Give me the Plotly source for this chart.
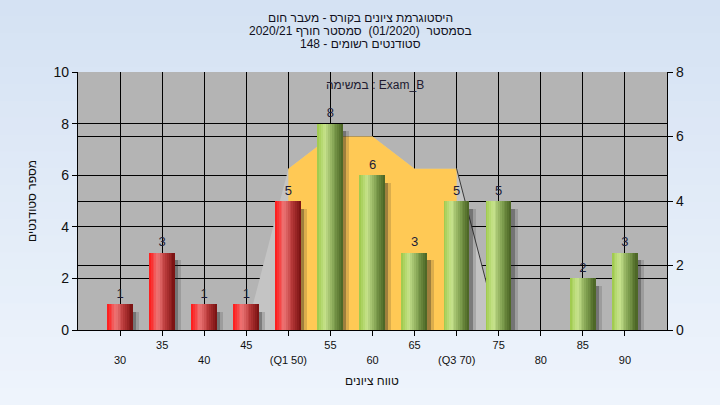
import plotly.graph_objects as go

# ---------------- data ----------------
scores = [30, 35, 40, 45, 50, 55, 60, 65, 70, 75, 80, 85, 90]
counts = [1, 3, 1, 1, 5, 8, 6, 3, 5, 5, 0, 2, 3]
tick_labels = ["30", "35", "40", "45", "(Q1 50)", "55", "60", "65", "(Q3 70)", "75", "80", "85", "90"]
q1_score = 50
q3_score = 70
# distribution shape plotted on the right axis
curve_x = [45, 50, 55, 60, 65, 70, 75]
curve_y = [0, 5, 6, 6, 5, 5, 0]

title_lines = [
    "היסטוגרמת ציונים בקורס - מעבר חום",
    "בסמסטר  (01/2020)  סמסטר חורף 2020/21",
    "סטודנטים רשומים - 148",
]
task_label = "במשימה : Exam_B"
x_title = "טווח ציונים"
y_title = "מספר סטודנטים"

# ---------------- styling helpers ----------------
FONT = "Liberation Sans, Arial, DejaVu Sans, sans-serif"
RTL_OPEN, RTL_CLOSE = "\u202b", "\u202c"

red_stops = [(0.0, (255, 22, 22)), (0.35, (236, 118, 118)), (0.65, (186, 58, 58)), (1.0, (118, 16, 16))]
green_stops = [(0.0, (156, 200, 72)), (0.3, (200, 228, 142)), (0.65, (128, 160, 80)), (1.0, (72, 98, 34))]


def interp(stops, t):
    for (t0, c0), (t1, c1) in zip(stops[:-1], stops[1:]):
        if t0 <= t <= t1:
            f = (t - t0) / (t1 - t0)
            return "rgb(%d,%d,%d)" % tuple(round(a + (b - a) * f) for a, b in zip(c0, c1))
    return "rgb(%d,%d,%d)" % stops[-1][1]


BAR_W = 3.0
N_SLICES = 14
slice_w = BAR_W / N_SLICES

# plot-area geometry in pixels
L, T, PW, PH = 78, 72, 589, 258
W, H = 720, 405


def px_x(x):
    return (x - L) / PW


def px_y(y):
    return (T + PH - y) / PH


fig = go.Figure()

# light grey distribution area (main subplot, right axis)
fig.add_trace(go.Scatter(
    x=curve_x, y=curve_y, mode="lines", line=dict(width=0, color="#c4c4c4"),
    fill="tozeroy", fillcolor="#c4c4c4", hoverinfo="skip", showlegend=False,
    xaxis="x", yaxis="y"))

# yellow inter-quartile area
iq_x = [x for x in curve_x if q1_score <= x <= q3_score]
iq_y = [y for x, y in zip(curve_x, curve_y) if q1_score <= x <= q3_score]
fig.add_trace(go.Scatter(
    x=iq_x, y=iq_y, mode="lines", line=dict(width=0, color="#ffc955"),
    fill="tozeroy", fillcolor="#ffc955", hoverinfo="skip", showlegend=False,
    xaxis="x", yaxis="y"))

# dark edge on the falling side
fig.add_trace(go.Scatter(
    x=curve_x[-2:], y=curve_y[-2:], mode="lines", line=dict(width=1, color="#3a3a3a"),
    hoverinfo="skip", showlegend=False, xaxis="x", yaxis="y"))

# bar shadows (overlay subplot, left axis)
shadow_y = [max(c - 0.3, 0) for c in counts]
for off, alpha in [(0.75, 0.16), (0.4, 0.32)]:
    fig.add_trace(go.Bar(
        x=scores, y=shadow_y, width=BAR_W, offset=-BAR_W / 2 + off,
        marker=dict(color="rgba(30,30,30,%.2f)" % alpha, line=dict(width=0)),
        hoverinfo="skip", showlegend=False, xaxis="x", yaxis="y2"))

# cylinder-shaded bars via thin slices
for i in range(N_SLICES):
    t = (i + 0.5) / N_SLICES
    cols = [interp(red_stops if s <= q1_score else green_stops, t) for s in scores]
    fig.add_trace(go.Bar(
        x=scores, y=counts, width=slice_w * 1.04, offset=-BAR_W / 2 + i * slice_w,
        marker=dict(color=cols, line=dict(width=0)),
        hoverinfo="skip", showlegend=False, xaxis="x", yaxis="y2"))

# value labels
fig.add_trace(go.Scatter(
    x=scores, y=counts, mode="markers+text",
    marker=dict(size=3, opacity=0),
    text=[str(c) if c > 0 else "" for c in counts],
    textposition="top center",
    textfont=dict(family=FONT, size=13, color="#1c1c38"),
    hoverinfo="skip", showlegend=False, xaxis="x", yaxis="y2"))

# ---------------- background ----------------
shapes = []
y_lo, y_hi = px_y(H), px_y(0)
x_lo, x_hi = px_x(0), px_x(W)
n_bands = 24
top_c, bot_c = (213, 226, 243), (238, 244, 252)
for k in range(n_bands):
    f = k / (n_bands - 1)
    col = "rgb(%d,%d,%d)" % tuple(round(a + (b - a) * f) for a, b in zip(top_c, bot_c))
    y1 = y_hi - (y_hi - y_lo) * k / n_bands
    y0 = y_hi - (y_hi - y_lo) * (k + 1) / n_bands
    shapes.append(dict(type="rect", xref="paper", yref="paper", x0=x_lo, x1=x_hi,
                       y0=y0 - 0.002, y1=y1 + 0.002, fillcolor=col, line=dict(width=0),
                       layer="below"))
shapes.append(dict(type="rect", xref="paper", yref="paper", x0=0, x1=1, y0=0, y1=1,
                   fillcolor="#b4b4b4", line=dict(width=0), layer="below"))

# ---------------- annotations ----------------
annotations = []
for k, line in enumerate(title_lines):
    annotations.append(dict(
        text=RTL_OPEN + line + RTL_CLOSE, xref="paper", yref="paper",
        x=px_x(360), y=px_y(18 + 13 * k),
        xanchor="center", yanchor="middle", showarrow=False,
        font=dict(family=FONT, size=12, color="#101020")))
annotations.append(dict(
    text=task_label, xref="paper", yref="paper",
    x=px_x(375), y=px_y(85), xanchor="center", yanchor="middle",
    showarrow=False, font=dict(family=FONT, size=12, color="#201a30")))
annotations.append(dict(
    text=y_title, xref="paper", yref="paper", textangle=-90,
    x=px_x(32), y=px_y(201), xanchor="center", yanchor="middle",
    showarrow=False, font=dict(family=FONT, size=12, color="#101010")))
annotations.append(dict(
    text=x_title, xref="paper", yref="paper",
    x=px_x(372), y=px_y(381), xanchor="center", yanchor="middle",
    showarrow=False, font=dict(family=FONT, size=12, color="#101010")))

ticktext = [lab if i % 2 == 1 else "<br>" + lab for i, lab in enumerate(tick_labels)]

axis_common = dict(showline=True, linecolor="black", linewidth=1.2,
                   ticks="outside", ticklen=5, tickcolor="black",
                   showgrid=True, gridcolor="black", gridwidth=1.4, zeroline=False)

fig.update_layout(
    width=W, height=H, autosize=False,
    margin=dict(l=L, r=W - L - PW, t=T, b=H - T - PH, pad=0),
    paper_bgcolor="#e2ebf7", plot_bgcolor="#b4b4b4",
    barmode="overlay", bargap=0,
    font=dict(family=FONT, size=12, color="black"),
    showlegend=False,
    xaxis=dict(range=[25, 95], tickmode="array", tickvals=scores, ticktext=ticktext,
               tickfont=dict(size=11, color="#101010"), automargin=False,
               **axis_common),
    yaxis=dict(range=[0, 8], side="right", dtick=2, tick0=0, automargin=False,
               tickfont=dict(size=14, color="#101010"), **axis_common),
    yaxis2=dict(range=[0, 10], side="left", overlaying="y", dtick=2, tick0=0,
                automargin=False,
                tickfont=dict(size=14, color="#101010"), **axis_common),
    shapes=shapes,
    annotations=annotations,
)

fig.write_html("out.html", config={"displayModeBar": False},
               post_script="document.body.style.margin='0';document.body.style.overflow='hidden';")
